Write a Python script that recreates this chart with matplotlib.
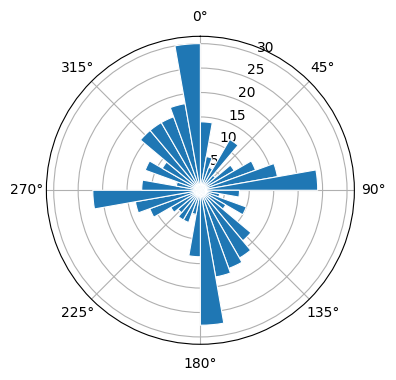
import numpy as np
import matplotlib
matplotlib.use("Agg")
import matplotlib.pyplot as plt

# bin centres in degrees (10-degree bins)
bin_centers_deg = list(range(5, 360, 10))
counts = [14, 7, 5, 12, 4, 8, 12, 16, 24,
          8, 4, 10, 6, 13.5, 16, 17, 18, 27.6,
          13.6, 5, 7, 7, 6, 7, 11, 13.5, 22,
          12, 5, 12, 9, 16, 16, 16, 18, 30]
bin_width_deg = 10
r_ticks = [5, 10, 15, 20, 25, 30]

fig = plt.figure(figsize=(3.96, 3.80), dpi=100)
ax = fig.add_axes([0.117, 0.094, 0.778, 0.8105], projection="polar")
ax.set_theta_zero_location("N")
ax.set_theta_direction(-1)

theta = np.deg2rad(bin_centers_deg)
ax.bar(theta, counts, width=np.deg2rad(bin_width_deg), color="#1f77b4",
       edgecolor="white", linewidth=0.8, zorder=2)
ax.set_ylim(0, 31.5)
ax.set_yticks(r_ticks)
ax.set_rlabel_position(22.5)
ax.grid(True, color="#b0b0b0", linewidth=0.8)
ax.set_axisbelow(True)

fig.savefig("out.png", dpi=100)
